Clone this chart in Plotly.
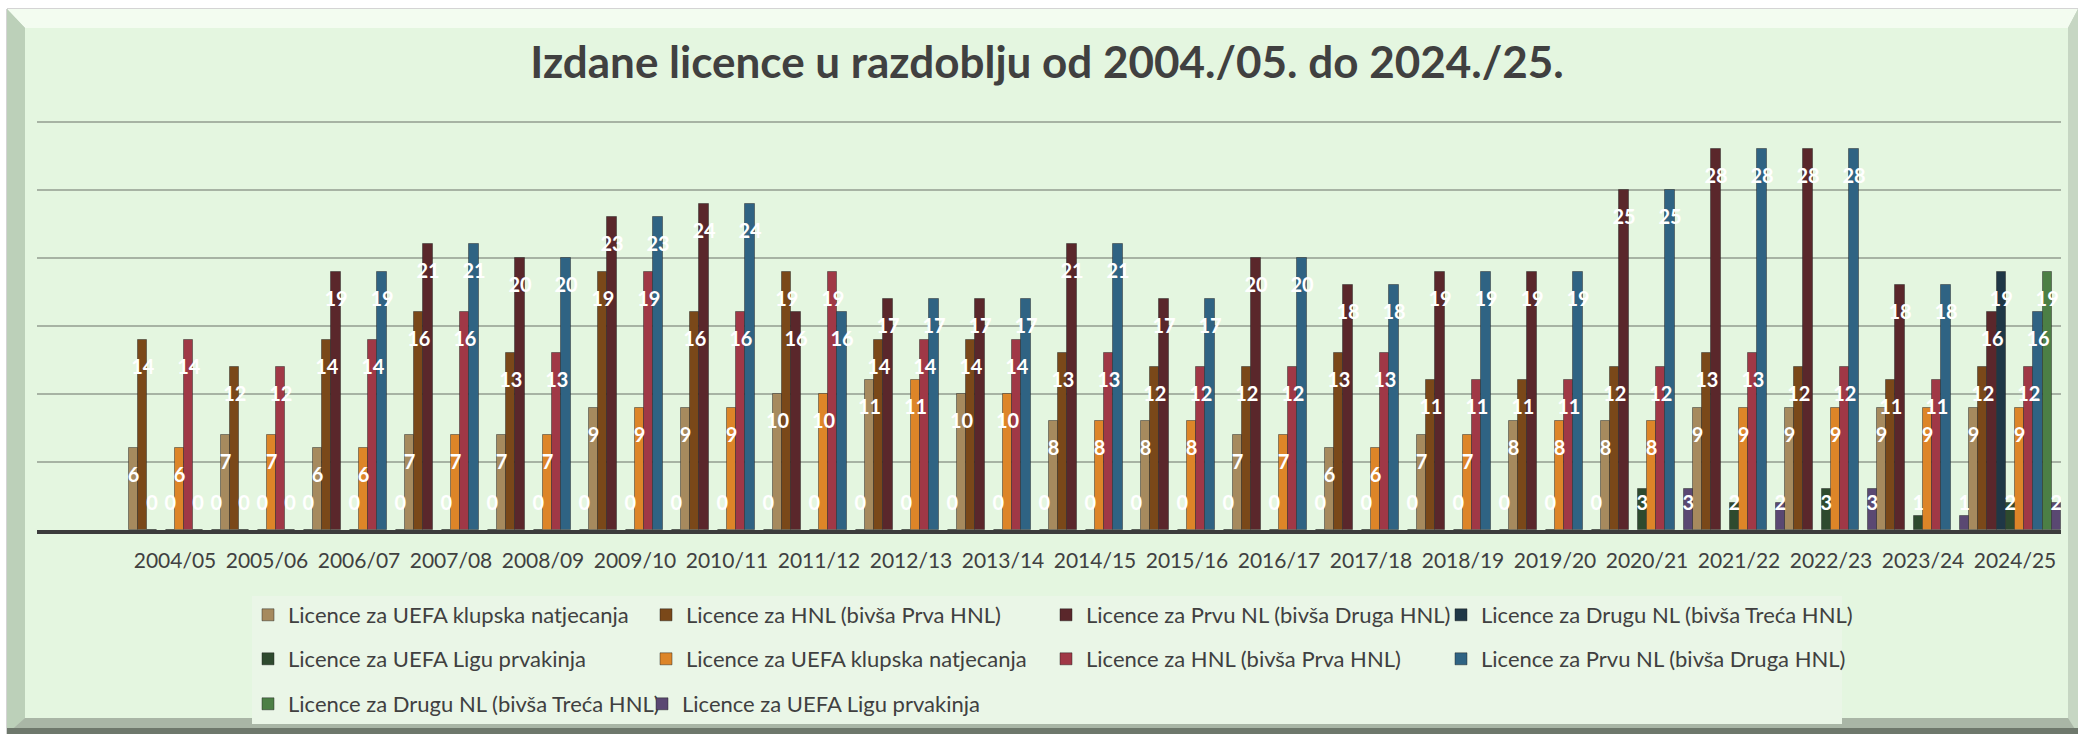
import plotly.graph_objects as go

# ---------------- data ----------------
seasons = ["2004/05", "2005/06", "2006/07", "2007/08", "2008/09", "2009/10", "2010/11",
           "2011/12", "2012/13", "2013/14", "2014/15", "2015/16", "2016/17", "2017/18",
           "2018/19", "2019/20", "2020/21", "2021/22", "2022/23", "2023/24", "2024/25"]

uefa_klupska = [6, 7, 6, 7, 7, 9, 9, 10, 11, 10, 8, 8, 7, 6, 7, 8, 8, 9, 9, 9, 9]
hnl = [14, 12, 14, 16, 13, 19, 16, 19, 14, 14, 13, 12, 12, 13, 11, 11, 12, 13, 12, 11, 12]
prva_nl = [0, 0, 19, 21, 20, 23, 24, 16, 17, 17, 21, 17, 20, 18, 19, 19, 25, 28, 28, 18, 16]
druga_nl = [None, None, None, None, None, None, None, None, None, None, None,
            None, None, None, None, None, None, None, None, None, 19]
uefa_lp = [0, 0, 0, 0, 0, 0, 0, 0, 0, 0, 0, 0, 0, 0, 0, 0, 3, 2, 3, 1, 2]

series_names = ["Licence za UEFA klupska natjecanja",
                "Licence za HNL (bivša Prva HNL)",
                "Licence za Prvu NL (bivša Druga HNL)",
                "Licence za Drugu NL (bivša Treća HNL)",
                "Licence za UEFA Ligu prvakinja",
                "Licence za UEFA klupska natjecanja",
                "Licence za HNL (bivša Prva HNL)",
                "Licence za Prvu NL (bivša Druga HNL)",
                "Licence za Drugu NL (bivša Treća HNL)",
                "Licence za UEFA Ligu prvakinja"]
# the second block of five series repeats the first block's values
series_values = [uefa_klupska, hnl, prva_nl, druga_nl, uefa_lp,
                 uefa_klupska, hnl, prva_nl, druga_nl, uefa_lp]
series_colors = ["#A68A5E", "#7A4819", "#5A272B", "#1F3746", "#2E4A2E",
                 "#DD8528", "#A03846", "#2F6383", "#4C7F45", "#5A4872"]

# ---------------- geometry helpers (styling only) ----------------
W, H = 2078, 734
ML, MR, MT, MB = 37, 17, 120, 204
PW, PH = W - ML - MR, H - MT - MB


def px(x):
    return (x - ML) / PW


def py(y):
    return (H - MB - y) / PH


def poly(points):
    return "M" + " L".join(f"{px(a):.5f},{py(b):.5f}" for a, b in points) + " Z"


# legend layout (pixel position of each entry's text start / row centre)
legend_text_x = [282, 680, 1080, 1475, 282, 680, 1080, 1475, 282, 676]
legend_row_y = [615, 615, 615, 615, 659, 659, 659, 659, 704, 704]
legend_ids = ["legend"] + [f"legend{i}" for i in range(2, 11)]

x_pos = list(range(1, len(seasons) + 1))
TXT = "#404040"
FONT = "Lato"

fig = go.Figure()

for name, vals, col, leg in zip(series_names, series_values, series_colors, legend_ids):
    fig.add_trace(go.Bar(
        x=x_pos, y=vals, name=name, legend=leg,
        marker=dict(color=col, line=dict(color="rgba(30,30,30,0.45)", width=1)),
        hoverinfo="skip",
    ))

# value labels (white, bold) placed near the top inside each bar
for vals in series_values:
    ly = [None if v is None else max(v - 2.13, 1.84) for v in vals]
    tx = ["" if v is None else str(v) for v in vals]
    fig.add_trace(go.Scatter(
        x=x_pos, y=ly, text=tx, mode="text", showlegend=False, hoverinfo="skip",
        textposition="middle center",
        textfont=dict(family=FONT, size=20, color="white", weight="bold"),
    ))

# ---------------- frame ----------------
shapes = [
    dict(type="path", path=poly([(7, 9), (2078, 9), (2078, 734), (7, 734)]),
         fillcolor="#C3D2C0", line=dict(color="#A8A8A8", width=1)),
    dict(type="path", path=poly([(7, 9), (2078, 9), (2068, 28), (25, 28)]),
         fillcolor="#F3FCF0", line=dict(width=0)),
    dict(type="path", path=poly([(7, 9), (25, 28), (25, 718), (7, 734)]),
         fillcolor="#BCD0B9", line=dict(width=0)),
    dict(type="path", path=poly([(2078, 9), (2068, 28), (2068, 718), (2078, 734)]),
         fillcolor="#C6D6C3", line=dict(width=0)),
    dict(type="path", path=poly([(7, 734), (25, 718), (2068, 718), (2078, 734)]),
         fillcolor="#A9B6A6", line=dict(width=0)),
    dict(type="path", path=poly([(7, 728), (2078, 728), (2078, 734), (7, 734)]),
         fillcolor="#6E786C", line=dict(width=0)),
    dict(type="path", path=poly([(25, 28), (2068, 28), (2068, 718), (25, 718)]),
         fillcolor="#E4F6E0", line=dict(width=0)),
    dict(type="path", path=poly([(252, 596), (1842, 596), (1842, 724), (252, 724)]),
         fillcolor="#EAF6E7", line=dict(width=0)),
]
for s in shapes:
    s.update(xref="paper", yref="paper", layer="below")

legends = {}
for lid, tx_px, ry in zip(legend_ids, legend_text_x, legend_row_y):
    legends[lid] = dict(orientation="h", xref="container", yref="container",
                        x=(tx_px - 34) / W, xanchor="left",
                        y=1 - ry / H, yanchor="middle",
                        bgcolor="rgba(0,0,0,0)",
                        font=dict(family=FONT, size=22, color=TXT),
                        itemclick=False, itemdoubleclick=False)

fig.update_layout(
    width=W, height=H,
    margin=dict(l=ML, r=MR, t=MT, b=MB, autoexpand=False),
    paper_bgcolor="white", plot_bgcolor="rgba(0,0,0,0)",
    barmode="group", bargap=0, bargroupgap=0,
    scattermode="group", scattergap=0,
    title=dict(text="<b>Izdane licence u razdoblju od 2004./05. do 2024./25.</b>",
               font=dict(family=FONT, size=44, color=TXT),
               x=1047 / W, xanchor="center", xref="container",
               y=1 - 63 / H, yanchor="middle", yref="container"),
    xaxis=dict(range=[-0.5, len(seasons) + 0.5], tickmode="array",
               tickvals=x_pos, ticktext=seasons, showgrid=False, zeroline=False,
               showline=True, linecolor="#3C3C3C", linewidth=4,
               ticks="outside", ticklen=9, tickcolor="rgba(0,0,0,0)",
               tickfont=dict(family=FONT, size=21, color=TXT)),
    yaxis=dict(range=[0, 30.15], tickmode="array", tickvals=[5, 10, 15, 20, 25, 30],
               showticklabels=False, zeroline=False,
               showgrid=True, gridcolor="#A7B3A4", gridwidth=2, showline=False),
    shapes=shapes,
    showlegend=True,
    **legends,
)

fig.write_html("out.html", config={"displayModeBar": False},
               post_script="document.body.style.margin='0';")
